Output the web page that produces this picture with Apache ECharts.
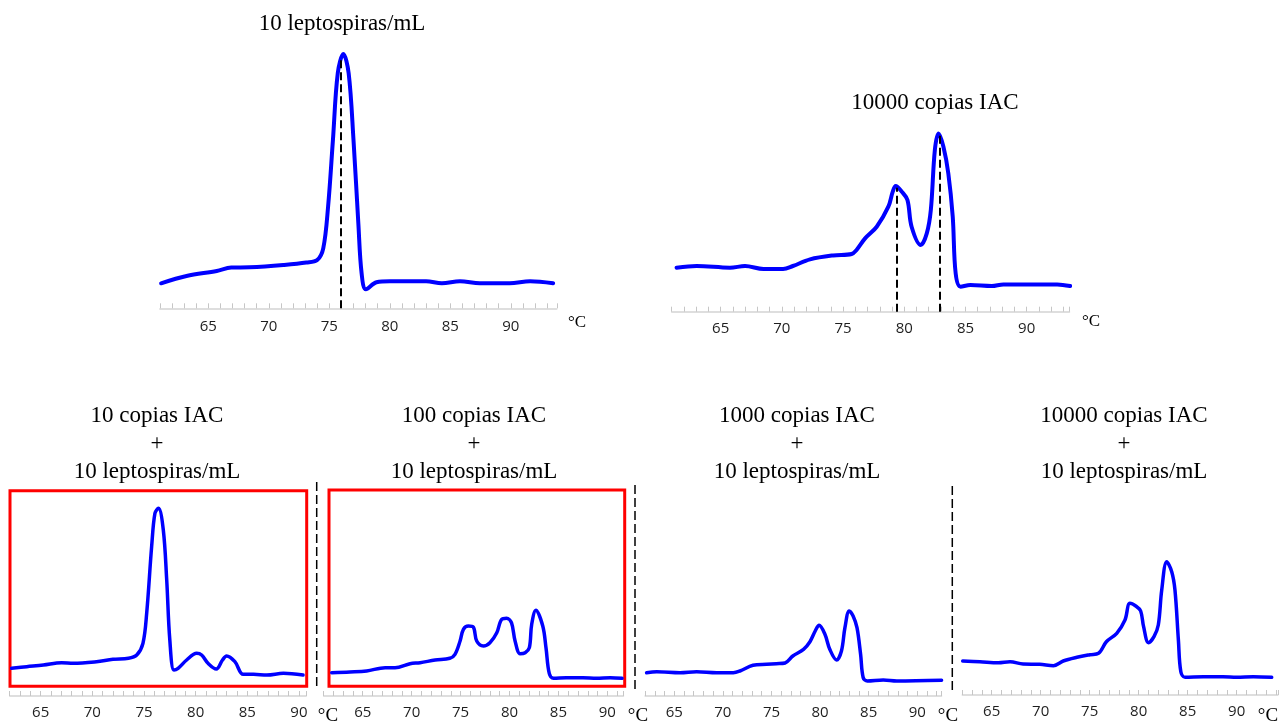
<!DOCTYPE html>
<html><head><meta charset="utf-8">
<script src="https://cdn.jsdelivr.net/npm/echarts@6/dist/echarts.min.js"></script>
<style>html,body{margin:0;padding:0;background:#fff}#c{width:1286px;height:722px}</style>
</head><body><div id="c"></div>
<script>
// ---- data (temperature °C, -dF/dT arbitrary units) ----
const titles = [
  '10 leptospiras/mL',
  '10000 copias IAC',
  '10 copias IAC\n+\n10 leptospiras/mL',
  '100 copias IAC\n+\n10 leptospiras/mL',
  '1000 copias IAC\n+\n10 leptospiras/mL',
  '10000 copias IAC\n+\n10 leptospiras/mL'
];
const unitLabel = '°C';
const tickLabels = [65, 70, 75, 80, 85, 90];

const temp1 = [61.1, 63.2, 65.7, 66.9, 68.4, 71.2, 73.1, 74.0, 74.5, 74.9, 75.3, 75.7, 76.16, 76.6, 77.0, 77.4, 77.67, 78.03, 78.9, 80.0, 83.0, 84.3, 85.8, 87.45, 89.9, 91.6, 93.5];
const val1  = [25, 32.3, 37.3, 40.7, 41, 43.3, 45.7, 48.3, 60, 101.7, 168.3, 235, 254.3, 235, 168.3, 85, 35, 19, 26, 27, 27, 25, 27, 25, 25, 27, 25];
const peaks1 = [[75.94, 250]];

const temp2 = [61.4, 63.04, 65.76, 66.99, 68.5, 70.1, 70.9, 72.3, 74.2, 75.7, 76.1, 76.8, 77.75, 78.7, 79.06, 79.3, 79.8, 80.26, 80.6, 81.35, 81.84, 82.17, 82.5, 82.8, 83.2, 83.6, 83.96, 84.2, 84.6, 85.4, 87.15, 88.1, 92.5, 93.55];
const val2  = [44, 45.7, 44, 45.7, 42.7, 42.7, 45.7, 52.3, 56.3, 57.7, 61.7, 73.3, 85, 105, 120, 125.7, 120, 111.7, 85, 66.7, 78.3, 101.7, 161.7, 178.3, 165, 138.3, 95, 38.3, 25, 26.7, 25.7, 27.3, 27.3, 25.7];
const peaks2 = [[79.39, 124], [82.87, 176]];

const temp3 = [62.19, 63.65, 65.26, 67.03, 68.16, 70.4, 72.0, 73.5, 74.3, 74.9, 75.26, 75.74, 76.06, 76.4, 76.87, 77.2, 77.5, 77.9, 78.3, 79.13, 80.1, 80.58, 81.2, 82.0, 82.6, 83.0, 83.8, 84.6, 85.6, 86.9, 88.5, 90.4];
const val3  = [27.7, 29.3, 31, 33.3, 32.7, 34.3, 36.7, 37.7, 41, 52.7, 82.7, 149.3, 182.7, 187.7, 166, 116, 56, 26, 27.7, 36, 42.7, 41, 32.7, 27, 36, 40, 34.3, 21.7, 21.7, 21, 22.7, 21];

const temp4 = [61.83, 63.7, 65.4, 67.3, 68.3, 69.84, 70.86, 72.4, 73.9, 74.43, 74.95, 75.29, 75.8, 76.3, 76.65, 77.33, 78.0, 78.7, 79.2, 79.7, 80.2, 80.57, 81.08, 81.6, 82.03, 82.27, 82.7, 83.4, 83.73, 84.07, 84.5, 85.8, 87.5, 88.9, 90.3, 91.5];
const val4  = [23.3, 24, 25, 28.3, 28.3, 32.3, 33.3, 36, 37.7, 41.7, 55, 66.7, 70, 69, 55, 50, 53.3, 63.3, 76.7, 77.7, 73.3, 55, 42.3, 43.3, 48.3, 71.7, 85.7, 70, 48.3, 22.3, 17.7, 18.3, 18.3, 17.7, 18.3, 17.7];

const temp5 = [62.15, 63.2, 65.6, 67.3, 69.36, 71.07, 71.76, 73.1, 74.5, 75.5, 76.4, 77.2, 78.3, 78.96, 79.5, 79.9, 80.5, 81.0, 81.7, 82.2, 82.56, 83.0, 83.4, 83.8, 84.17, 84.44, 84.86, 86.5, 87.9, 92.5];
const val5  = [23.3, 24.3, 23.3, 24.3, 23.3, 23.3, 25, 30.7, 31.7, 32.3, 33, 40, 46.7, 54.3, 65, 70.7, 61.7, 46.7, 36, 45, 68.3, 85, 80, 68.3, 41.7, 18.3, 15, 16, 15, 15.7];

const temp6 = [62.04, 63.8, 65.68, 66.87, 68.2, 69.9, 71.3, 72.3, 73.7, 75.03, 75.9, 76.7, 77.76, 78.6, 79.1, 79.7, 80.2, 80.5, 81.0, 81.56, 82.0, 82.35, 82.86, 83.37, 83.7, 84.05, 84.3, 84.73, 86.6, 88.6, 90.0, 91.7, 93.57];
const val6  = [34, 33.3, 32.3, 33.3, 31, 30.7, 29.3, 34, 37.7, 40.3, 41.7, 53.3, 61.7, 75, 91.7, 89, 84, 68.3, 52.3, 58.3, 70, 105, 133.3, 123.3, 105, 55, 23.3, 17.7, 18.3, 18.3, 17.7, 18.3, 17.7];

// ---- layout (positions / styles) ----
const panels = [
  {t: temp1, v: val1, peaks: peaks1, min: 61, max: 93.8, left: 159.9, ppd: 12.1,  axisY: 308.3, h: 260, margin: 11, lw: 4,
   title: {x: 342, y: 10}, unit: {x: 577, y: 323, size: 17}},
  {t: temp2, v: val2, peaks: peaks2, min: 61, max: 93.5, left: 671.7, ppd: 12.24, axisY: 311.7, h: 260, margin: 10, lw: 4,
   title: {x: 935, y: 89}, unit: {x: 1091, y: 322, size: 17}},
  {t: temp3, v: val3, peaks: [], min: 62, max: 90.7, left: 9.7, ppd: 10.33, axisY: 696, h: 200, margin: 9, lw: 3.5,
   title: {x: 157, y: 402}, unit: {x: 328, y: 716, size: 19}, box: [10, 490.8, 296.7, 195.5]},
  {t: temp4, v: val4, peaks: [], min: 61, max: 91.65, left: 323.6, ppd: 9.784, axisY: 696, h: 200, margin: 9, lw: 3.5,
   title: {x: 474, y: 402}, unit: {x: 638, y: 716, size: 19}, box: [329, 490, 295.7, 196.3]},
  {t: temp5, v: val5, peaks: [], min: 62, max: 92.5, left: 645.1, ppd: 9.72, axisY: 696, h: 200, margin: 9, lw: 3.5,
   title: {x: 797, y: 402}, unit: {x: 948, y: 716, size: 19}},
  {t: temp6, v: val6, peaks: [], min: 62, max: 94.2, left: 962.3, ppd: 9.8, axisY: 695, h: 200, margin: 9, lw: 3.5,
   title: {x: 1124, y: 402}, unit: {x: 1268, y: 716, size: 19}}
];
const separators = [[316.7, 482, 688], [635, 485, 692], [952.3, 486, 691]];

const grid = [], xAxis = [], yAxis = [], series = [], graphic = [];
panels.forEach((p, i) => {
  grid.push({left: p.left, top: p.axisY - p.h, width: (p.max - p.min) * p.ppd, height: p.h,
             outerBoundsMode: 'none', containLabel: false});
  xAxis.push({
    type: 'value', gridIndex: i, min: p.min, max: p.max, interval: 1,
    axisLine: {show: true, onZero: false, lineStyle: {color: '#d4d4d4', width: 1.5}},
    axisTick: {show: true, inside: true, length: 5, lineStyle: {color: '#c6c6c6', width: 1}},
    splitLine: {show: false},
    axisLabel: {
      show: true, margin: p.margin, fontFamily: 'Open Sans', fontSize: 15, color: '#1e1e1e',
      showMinLabel: true, showMaxLabel: true,
      formatter: v => tickLabels.indexOf(Math.round(v * 1000) / 1000) >= 0 ? String(Math.round(v)) : ''
    }
  });
  yAxis.push({type: 'value', gridIndex: i, min: 0, max: p.h, show: false});
  const data = p.t.map((x, k) => [x, p.v[k]]);
  series.push({
    type: 'line', xAxisIndex: i, yAxisIndex: i, data: data, showSymbol: false, smooth: 0.35,
    lineStyle: {color: '#0000ff', width: p.lw, cap: 'round', join: 'round'},
    z: 2,
    markLine: p.peaks.length ? {
      silent: true, symbol: ['none', 'none'], label: {show: false}, z: 5,
      lineStyle: {color: '#000', width: 2, type: [8, 4]},
      data: p.peaks.map(pk => [{coord: [pk[0], 0]}, {coord: [pk[0], pk[1]]}])
    } : undefined
  });
  graphic.push({type: 'text', x: p.title.x, y: p.title.y, z: 10,
    style: {text: titles[i], fontFamily: 'Liberation Serif', fontSize: 23, fill: '#000',
            align: 'center', verticalAlign: 'top', lineHeight: 28}});
  graphic.push({type: 'text', x: p.unit.x, y: p.unit.y, z: 10,
    style: {text: unitLabel, fontFamily: 'Liberation Serif', fontSize: p.unit.size, fill: '#000',
            align: 'center', verticalAlign: 'middle'}});
  if (p.box) {
    graphic.push({type: 'rect', z: 1, shape: {x: p.box[0], y: p.box[1], width: p.box[2], height: p.box[3]},
      style: {fill: null, stroke: '#ff0000', lineWidth: 3}});
  }
});
separators.forEach(s => {
  graphic.push({type: 'line', z: 1, shape: {x1: s[0], y1: s[1], x2: s[0], y2: s[2]},
    style: {stroke: '#000', lineWidth: 1.5, lineDash: [9, 4]}});
});

const chart = echarts.init(document.getElementById('c'), null, {renderer: 'canvas'});
chart.setOption({animation: false, backgroundColor: '#fff', grid, xAxis, yAxis, series, graphic});
</script></body></html>
